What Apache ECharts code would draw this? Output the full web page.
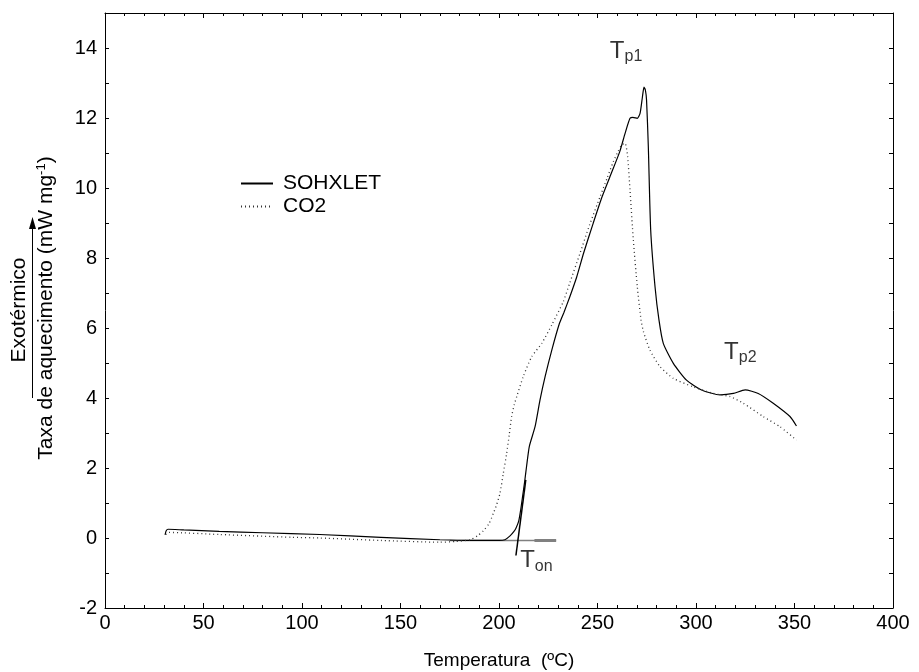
<!DOCTYPE html>
<html>
<head>
<meta charset="utf-8">
<script src="https://cdn.jsdelivr.net/npm/echarts@6/dist/echarts.min.js"></script>
<style>
  html, body { margin: 0; padding: 0; background: #fff; }
  #chart { width: 919px; height: 672px; }
</style>
</head>
<body>
<div id="chart"></div>
<script>
// DSC heating-rate curves: [temperature (ºC), heat flow (mW mg-1)]
const sohxlet = [
  [30.5, 0.09], [31, 0.2], [32, 0.25], [40, 0.23], [58, 0.19], [80, 0.15],
  [109, 0.1], [140, 0.02], [170, -0.05], [185, -0.07], [200, -0.07],
  [203, -0.05], [205.6, 0.06], [207.5, 0.18], [208.6, 0.28], [210, 0.48],
  [211, 0.8], [212, 1.2], [213, 1.6], [214, 2.05], [215.4, 2.62],
  [218.3, 3.18], [220.8, 3.94], [223.4, 4.61], [226.8, 5.37], [230.5, 6.1],
  [233, 6.45], [236, 6.9], [239.4, 7.45], [243, 8.15], [247.8, 8.99],
  [252, 9.7], [256.3, 10.32], [261.3, 11.04], [264, 11.56], [266.5, 11.99],
  [268, 12.02], [270.2, 11.99], [271.6, 12.13], [272.8, 12.6], [273.6, 12.88],
  [274.3, 12.8], [274.9, 12.51], [275.8, 11.18], [277, 8.8], [279.2, 7.18],
  [281.2, 6.23], [283.4, 5.56], [288.5, 4.99], [295.2, 4.51], [302.8, 4.23],
  [312.2, 4.09], [319, 4.13], [324.9, 4.23], [331.6, 4.13], [339.2, 3.85],
  [347.7, 3.47], [351, 3.2]
];

const co2 = [
  [31, 0.1], [32, 0.16], [58, 0.1], [95, 0.02], [109, 0.0], [140, -0.07],
  [170, -0.12], [178, -0.1], [185.3, -0.05], [189, 0.06], [192, 0.2],
  [195, 0.42], [197.1, 0.7], [198.8, 0.95], [200.5, 1.28], [202.2, 1.85],
  [203.9, 2.42], [205.2, 2.95], [206.4, 3.47], [207.7, 3.8], [209, 4.04],
  [212.3, 4.61], [216.6, 5.18], [221.7, 5.56], [226.8, 6.09], [232.6, 6.75],
  [236, 7.3], [241.1, 8.13], [246, 8.95], [251.3, 9.75], [255, 10.3],
  [258, 10.75], [260.5, 11.05], [262.3, 11.23], [264, 11.28], [265.3, 10.9],
  [266.5, 9.94], [268.2, 8.51], [270.2, 7.18], [272.1, 6.23], [273.3, 5.9],
  [276.6, 5.37], [281.7, 4.9], [288.5, 4.56], [298.6, 4.32], [308.8, 4.13],
  [317.3, 4.04], [324, 3.85], [334.1, 3.47], [342.6, 3.18], [351, 2.8]
];

// Onset construction: extrapolated baseline and inflection tangent
const onsetBaseline = [[175, -0.07], [229, -0.07]];
const onsetBaselineBold = [[218, -0.07], [229, -0.07]];
const onsetTangent = [[208.6, -0.5], [213.6, 1.66]];

// Characteristic temperature labels: [T, value, main, subscript]
const peakLabels = [
  [264.5, 13.9, 'T', 'p1'],
  [322.5, 5.3, 'T', 'p2'],
  [219, -0.65, 'T', 'on']
];

const xTicks = { min: 0, max: 400, interval: 50 };
const yTicks = { min: -2, max: 15, interval: 1 };

const FONT = 'Liberation Sans, Arial, sans-serif';

const chart = echarts.init(document.getElementById('chart'), null, { renderer: 'canvas' });

const frameLine = { onZero: false, show: true, lineStyle: { color: '#000', width: 1 } };

const option = {
  animation: false,
  backgroundColor: '#fff',
  grid: {
    left: 105, right: 26, top: 13, bottom: 64,
    containLabel: false, outerBoundsMode: 'none'
  },
  legend: {
    data: ['SOHXLET', 'CO2'],
    orient: 'vertical',
    left: 235,
    top: 168,
    itemWidth: 32,
    itemHeight: 14,
    itemGap: 2,
    itemStyle: { opacity: 0 },
    textStyle: { fontFamily: FONT, fontSize: 21, lineHeight: 20, color: '#000', padding: [0, 0, 0, 5] }
  },
  xAxis: [
    {
      type: 'value', position: 'bottom',
      min: xTicks.min, max: xTicks.max, interval: xTicks.interval,
      name: 'Temperatura  (ºC)', nameLocation: 'middle', nameGap: 43,
      nameTextStyle: { fontFamily: FONT, fontSize: 19, color: '#000' },
      axisLine: frameLine,
      axisTick: { inside: true, length: 5, lineStyle: { color: '#000' } },
      minorTick: { show: true, splitNumber: 5, length: 3, lineStyle: { color: '#000' } },
      axisLabel: { fontFamily: FONT, fontSize: 20, color: '#000', margin: 5 },
      splitLine: { show: false }
    },
    {
      type: 'value', position: 'top',
      min: xTicks.min, max: xTicks.max, interval: xTicks.interval,
      axisLine: frameLine,
      axisTick: { inside: true, length: 5, lineStyle: { color: '#000' } },
      minorTick: { show: true, splitNumber: 5, length: 3, lineStyle: { color: '#000' } },
      axisLabel: { show: false },
      splitLine: { show: false }
    }
  ],
  yAxis: [
    {
      type: 'value', position: 'left',
      min: yTicks.min, max: yTicks.max, interval: yTicks.interval,
      axisLine: frameLine,
      axisTick: { inside: true, length: 4, lineStyle: { color: '#000' } },
      axisLabel: {
        fontFamily: FONT, fontSize: 20, color: '#000', margin: 8,
        showMaxLabel: false,
        formatter: v => (v % 2 === 0 && v < 15 ? String(v) : '')
      },
      splitLine: { show: false }
    },
    {
      type: 'value', position: 'right',
      min: yTicks.min, max: yTicks.max, interval: yTicks.interval,
      axisLine: frameLine,
      axisTick: { inside: true, length: 4, lineStyle: { color: '#000' } },
      axisLabel: { show: false },
      splitLine: { show: false }
    }
  ],
  series: [
    {
      name: 'SOHXLET', type: 'line', data: sohxlet,
      symbol: 'none', smooth: 0.2, z: 3,
      lineStyle: { color: '#000', width: 1.2, type: 'solid' },
      itemStyle: { color: '#000' }
    },
    {
      name: 'CO2', type: 'line', data: co2,
      symbol: 'none', smooth: 0.2, z: 3,
      lineStyle: { color: '#333', width: 1.3, type: [1, 3] },
      itemStyle: { color: '#333' }
    },
    {
      name: 'baseline', type: 'line', data: onsetBaseline,
      symbol: 'none', silent: true, z: 2,
      lineStyle: { color: '#808080', width: 1.5 }
    },
    {
      name: 'baselineBold', type: 'line', data: onsetBaselineBold,
      symbol: 'none', silent: true, z: 2,
      lineStyle: { color: '#808080', width: 3 }
    },
    {
      name: 'tangent', type: 'line', data: onsetTangent,
      symbol: 'none', silent: true, z: 4,
      lineStyle: { color: '#000', width: 1.5 }
    },
    {
      name: 'labels', type: 'scatter', silent: true,
      data: peakLabels.map(d => ({ value: [d[0], d[1]], main: d[2], sub: d[3] })),
      symbolSize: 0,
      label: {
        show: true, position: 'inside',
        formatter: p => '{t|' + p.data.main + '}{s|' + p.data.sub + '}',
        rich: {
          t: { fontFamily: FONT, fontSize: 24, color: '#000', lineHeight: 28 },
          s: { fontFamily: FONT, fontSize: 16, color: '#000', lineHeight: 28, padding: [11, 0, 0, 0] }
        }
      }
    }
  ],
  graphic: [
    {
      type: 'text', x: 46, y: 308, rotation: Math.PI / 2,
      style: {
        text: '{a|Taxa de aquecimento (mW mg}{b|-1}{a|)}',
        align: 'center', verticalAlign: 'middle',
        rich: {
          a: { fontFamily: FONT, fontSize: 21, fill: '#000', lineHeight: 24 },
          b: { fontFamily: FONT, fontSize: 13, fill: '#000', lineHeight: 24, padding: [0, 0, 10, 0] }
        }
      }
    },
    {
      type: 'text', x: 19, y: 310, rotation: Math.PI / 2,
      style: {
        text: 'Exotérmico', align: 'center', verticalAlign: 'middle',
        font: '21px ' + FONT, fill: '#000'
      }
    },
    {
      type: 'line', shape: { x1: 32.5, y1: 398, x2: 32.5, y2: 226 },
      style: { stroke: '#000', lineWidth: 1 }
    },
    {
      type: 'polygon', shape: { points: [[32.5, 217], [29, 229], [36, 229]] },
      style: { fill: '#000' }
    }
  ]
};

chart.setOption(option);
</script>
</body>
</html>
